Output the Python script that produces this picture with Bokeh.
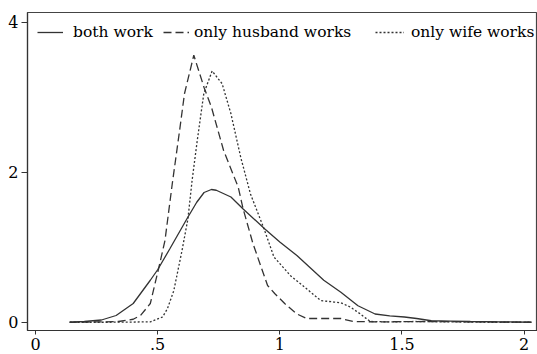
from bokeh.plotting import figure
from bokeh.models import FixedTicker, Legend, LegendItem, Range1d
from bokeh.embed import file_html
from bokeh.resources import INLINE

# ---- data ----
both_x = [0.14, 0.20, 0.27, 0.33, 0.40, 0.47, 0.50, 0.55, 0.62, 0.66, 0.69, 0.72, 0.74, 0.80, 0.85,
          0.94, 1.00, 1.07, 1.12, 1.18, 1.25, 1.32, 1.39, 1.45, 1.51, 1.56, 1.62, 1.70, 1.78, 1.90, 2.03]
both_y = [0.0, 0.01, 0.03, 0.09, 0.25, 0.56, 0.70, 0.98, 1.38, 1.60, 1.73, 1.77, 1.76, 1.67, 1.51,
          1.24, 1.07, 0.89, 0.74, 0.56, 0.40, 0.22, 0.11, 0.085, 0.07, 0.05, 0.02, 0.015, 0.01, 0.005, 0.0]

husb_x = [0.14, 0.27, 0.34, 0.40, 0.43, 0.47, 0.505, 0.53, 0.56, 0.59, 0.61, 0.648, 0.69, 0.72, 0.77,
          0.83, 0.85, 0.89, 0.95, 0.98, 1.02, 1.07, 1.11, 1.17, 1.25, 1.30, 1.40, 1.60, 1.80, 2.03]
husb_y = [0.0, 0.005, 0.01, 0.04, 0.09, 0.25, 0.73, 1.09, 1.85, 2.56, 3.05, 3.56, 3.13, 2.87, 2.29,
          1.80, 1.51, 1.05, 0.49, 0.38, 0.25, 0.11, 0.05, 0.05, 0.05, 0.01, 0.005, 0.01, 0.005, 0.0]

wife_x = [0.14, 0.30, 0.47, 0.52, 0.54, 0.566, 0.60, 0.624, 0.641, 0.662, 0.689, 0.723, 0.764, 0.80,
          0.84, 0.88, 0.935, 0.976, 1.044, 1.112, 1.167, 1.22, 1.25, 1.29, 1.33, 1.37, 1.45, 1.55,
          1.70, 1.85, 2.03]
wife_y = [0.0, 0.0, 0.005, 0.07, 0.18, 0.42, 0.96, 1.38, 1.89, 2.42, 3.05, 3.35, 3.18, 2.78,
          2.20, 1.71, 1.25, 0.87, 0.62, 0.44, 0.29, 0.27, 0.26, 0.20, 0.11, 0.01, 0.005, 0.01,
          0.005, 0.0, 0.0]

series_labels = ["both work", "only husband works", "only wife works"]
x_ticks = [0, 0.5, 1, 1.5, 2]
x_tick_labels = ["0", ".5", "1", "1.5", "2"]
y_ticks = [0, 2, 4]

FONT = "DejaVu Serif"
INK = "#333333"

p = figure(width=537, height=354, output_backend="svg", toolbar_location=None,
           x_range=Range1d(-0.0327, 2.0548), y_range=Range1d(-0.11, 4.13),
           min_border_left=27, min_border_right=0, min_border_top=12, min_border_bottom=24)

p.grid.visible = False
p.background_fill_color = "white"
p.border_fill_color = "white"
p.outline_line_color = "#444444"
p.outline_line_width = 1.2

r1 = p.line(both_x, both_y, line_color=INK, line_width=1.3)
r2 = p.line(husb_x, husb_y, line_color=INK, line_width=1.3, line_dash="8 4")
r3 = p.line(wife_x, wife_y, line_color=INK, line_width=1.3, line_dash="2 2")

for ax in (p.xaxis[0], p.yaxis[0]):
    ax.axis_line_color = INK
    ax.axis_line_width = 1.2
    ax.major_tick_line_color = INK
    ax.major_tick_in = 0
    ax.minor_tick_line_color = None
    ax.major_label_text_font = FONT
    ax.major_label_text_font_size = "16px"
    ax.major_label_text_color = "black"

p.xaxis.ticker = FixedTicker(ticks=x_ticks)
p.xaxis.major_label_overrides = {t: l for t, l in zip(x_ticks, x_tick_labels)}
p.xaxis.major_tick_out = 4
p.xaxis.major_label_standoff = 3

p.yaxis.ticker = FixedTicker(ticks=y_ticks)
p.yaxis.major_tick_out = 6
p.yaxis.major_label_standoff = 3

positions = [(10, 288, 26, 10), (136, 288, 26, 5), (348, 288, 29, 7)]
for r, lab, (vx, vy, gw, so) in zip((r1, r2, r3), series_labels, positions):
    lg = Legend(items=[LegendItem(label=lab, renderers=[r])], location=(vx, vy),
                orientation="horizontal", margin=0, padding=0, spacing=0,
                glyph_width=gw, glyph_height=20, label_height=20, label_standoff=so,
                label_text_font=FONT, label_text_font_size="15.5px", label_text_color="black",
                border_line_color=None, background_fill_alpha=0)
    p.add_layout(lg, "center")

open("out.html", "w").write(file_html(p, INLINE))
